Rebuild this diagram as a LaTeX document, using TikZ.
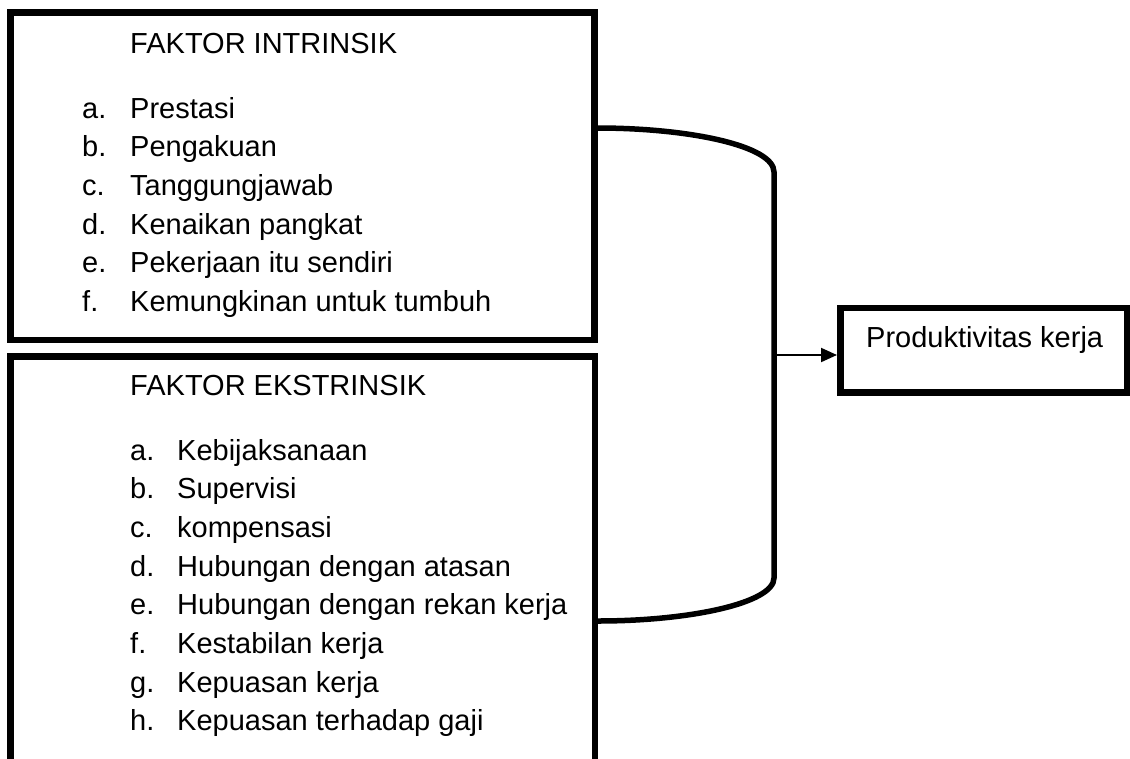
\documentclass[tikz,border=0pt]{standalone}
\usepackage{fontspec}
\setmainfont{Liberation Sans}
\usetikzlibrary{arrows.meta}
\begin{document}
\begin{tikzpicture}[x=1pt,y=-1pt,
  frame/.style={draw=black,line width=6.5pt},
  txt/.style={anchor=base west,inner sep=0pt,font=\fontsize{29}{38.7}\selectfont},
  bracketline/.style={draw=black,line width=5.5pt},
  arrowline/.style={draw=black,line width=2pt,-{Triangle[length=16pt,width=14pt]}}]
\useasboundingbox (0,0) rectangle (1130,758);
\clip (0,0) rectangle (1130,758);
% boxes
\draw[frame] (10.25,12.25) rectangle (594.5,339.75);
\draw[frame] (10.25,356.25) rectangle (595,800);
\node[frame,minimum width=286.5pt,minimum height=84.5pt,inner sep=0pt] (prod) at (983.5,350.25) {};
\node[txt] (prodtext) at (866,347) {Produktivitas kerja};
% box 1 texts
\node[txt] (t1) at (130,53) {FAKTOR INTRINSIK};
\foreach \l/\t [count=\i from 0] in {a./Prestasi,b./Pengakuan,c./Tanggungjawab,d./Kenaikan pangkat,e./Pekerjaan itu sendiri,f./Kemungkinan untuk tumbuh}{
  \node[txt] (la\i) at (82,118+\i*38.7) {\l};
  \node[txt] (ia\i) at (130,118+\i*38.7) {\t};
}
% box 2 texts
\node[txt] (t2) at (130,395) {FAKTOR EKSTRINSIK};
\foreach \l/\t [count=\i from 0] in {a./Kebijaksanaan,b./Supervisi,c./kompensasi,d./Hubungan dengan atasan,e./Hubungan dengan rekan kerja,f./Kestabilan kerja,g./Kepuasan kerja,h./Kepuasan terhadap gaji}{
  \node[txt] (lb\i) at (130,460+\i*38.7) {\l};
  \node[txt] (ib\i) at (177,460+\i*38.7) {\t};
}
% bracket
\coordinate (btop) at (597,128);
\coordinate (bbot) at (598,621);
\coordinate (bmid) at (774,355);
\draw[bracketline] (btop) .. controls (690,128) and (774,146) .. (774,172) -- (774,578) .. controls (774,603) and (690,621) .. (bbot);
% arrow
\draw[arrowline] (bmid) -- (prod.west |- bmid);
\end{tikzpicture}
\end{document}
